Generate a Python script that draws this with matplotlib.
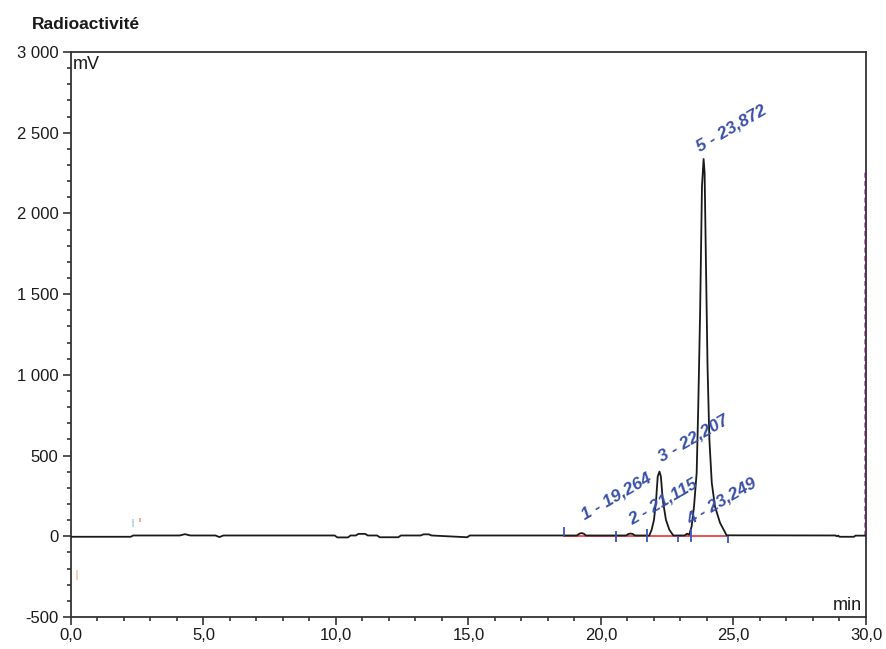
import matplotlib
matplotlib.use("Agg")
import matplotlib.pyplot as plt
from matplotlib.ticker import MultipleLocator, FixedLocator, FixedFormatter

plt.rcParams['font.family'] = ['Liberation Sans', 'DejaVu Sans']

# ---- data (time in min, signal in mV) ----
trace_t = [0.0, 2.25, 2.35, 4.1, 4.3, 4.5, 5.45, 5.6, 5.75, 9.95, 10.05, 10.45, 10.55,
           10.75, 10.85, 11.1, 11.2, 11.55, 11.65, 12.35, 12.45, 13.2, 13.3, 13.5, 13.6,
           14.95, 15.05, 18.6,
           19.1, 19.18, 19.264, 19.35, 19.43, 19.9,
           20.95, 21.03, 21.115, 21.2, 21.28, 21.7,
           21.82, 21.91, 22.0, 22.08, 22.14, 22.207, 22.26, 22.33, 22.45, 22.58, 22.73,
           23.15, 23.249, 23.33, 23.42, 23.51, 23.61, 23.67, 23.74, 23.81, 23.872,
           23.91, 23.96, 24.02, 24.09, 24.18, 24.30, 24.49, 24.74,
           28.85, 28.9, 28.95, 29.0, 29.55, 29.6, 30.0]
trace_mv = [-3, -3, 5, 5, 13, 5, 5, -5, 5, 5, -7, -7, 5,
            5, 15, 15, 5, 5, -6, -6, 5, 5, 12, 12, 5,
            -6, 5, 5,
            5, 16, 20, 16, 5, 5,
            5, 14, 17, 14, 5, 5,
            4, 40, 102, 226, 370, 401, 370, 226, 102, 40, 5,
            5, 16, 10, 61, 185, 393, 804, 1385, 2167, 2337,
            2252, 1694, 1052, 598, 331, 185, 84, 6,
            5, 0, 4, -3, -3, 4, 4]

peak_times = ['19,264', '21,115', '22,207', '23,249', '23,872']
peak_numbers = [1, 2, 3, 4, 5]
label_x = [19.4, 21.16, 22.29, 23.36, 23.74]
label_y = [102, 71, 463, 71, 2382]

# integration markers: time, lower and upper extent (mV)
marker_t = [18.6, 20.57, 21.72, 22.92, 23.4, 24.8]
marker_lo = [0, -35, -35, -35, -35, -40]
marker_hi = [60, 30, 45, 0, 45, 0]
baseline_t = [18.6, 24.8]
baseline_mv = [0, 0]

# event marks
event_t = [2.34, 2.6, 0.21]
event_lo = [60, 90, -270]
event_hi = [105, 115, -210]
event_col = ['#a8d8e8', '#f4a090', '#f8c8a8']

xticks = [0, 5, 10, 15, 20, 25, 30]
xtick_labels = ['0,0', '5,0', '10,0', '15,0', '20,0', '25,0', '30,0']
yticks = [-500, 0, 500, 1000, 1500, 2000, 2500, 3000]
ytick_labels = ['-500', '0', '500', '1 000', '1 500', '2 000', '2 500', '3 000']

fig = plt.figure(figsize=(8.87, 6.49), dpi=100)
ax = fig.add_axes([71/887, 1-617/649, (866-71)/887, (617-52)/649])

ax.plot(baseline_t, baseline_mv, color='#e8474a', lw=1.3, zorder=2)
ax.plot(trace_t, trace_mv, color='#1a1a1a', lw=1.3, zorder=3)
ax.vlines(marker_t, marker_lo, marker_hi, color='#3a55c0', lw=1.3, zorder=4)
ax.vlines(event_t, event_lo, event_hi, colors=event_col, lw=1.2, zorder=2)
ax.vlines([29.97], [0], [2270], colors='#d050d0', lw=1.2, linestyles=(0, (3, 2)), zorder=1)

for n, t, x, y in zip(peak_numbers, peak_times, label_x, label_y):
    ax.text(x, y, f'{n} - {t}', rotation=30, rotation_mode='anchor',
            ha='left', va='baseline', color='#3a50a8', fontsize=12.5,
            fontweight='bold', fontstyle='italic', zorder=5)

ax.set_xlim(0, 30)
ax.set_ylim(-500, 3000)
ax.xaxis.set_major_locator(FixedLocator(xticks))
ax.xaxis.set_major_formatter(FixedFormatter(xtick_labels))
ax.xaxis.set_minor_locator(MultipleLocator(1))
ax.yaxis.set_major_locator(FixedLocator(yticks))
ax.yaxis.set_major_formatter(FixedFormatter(ytick_labels))
ax.yaxis.set_minor_locator(MultipleLocator(100))

for s in ax.spines.values():
    s.set_color('#333333')
    s.set_linewidth(1.3)
ax.tick_params(which='major', length=6, width=1.2, color='#333333',
               labelsize=12, labelcolor='#1a1a1a', pad=2)
ax.tick_params(axis='y', which='major', pad=3)
ax.tick_params(which='minor', length=3, width=1.2, color='#333333')

ax.text(0.002, 0.993, 'mV', transform=ax.transAxes, ha='left', va='top',
        fontsize=13, color='#1a1a1a')
ax.text(0.995, 0.006, 'min', transform=ax.transAxes, ha='right', va='bottom',
        fontsize=13, color='#1a1a1a')
fig.text(32/887, 1-29/649, 'Radioactivité', ha='left', va='baseline',
         fontsize=12.5, fontweight='bold', color='#1a1a1a')

fig.savefig('out.png', dpi=100)
